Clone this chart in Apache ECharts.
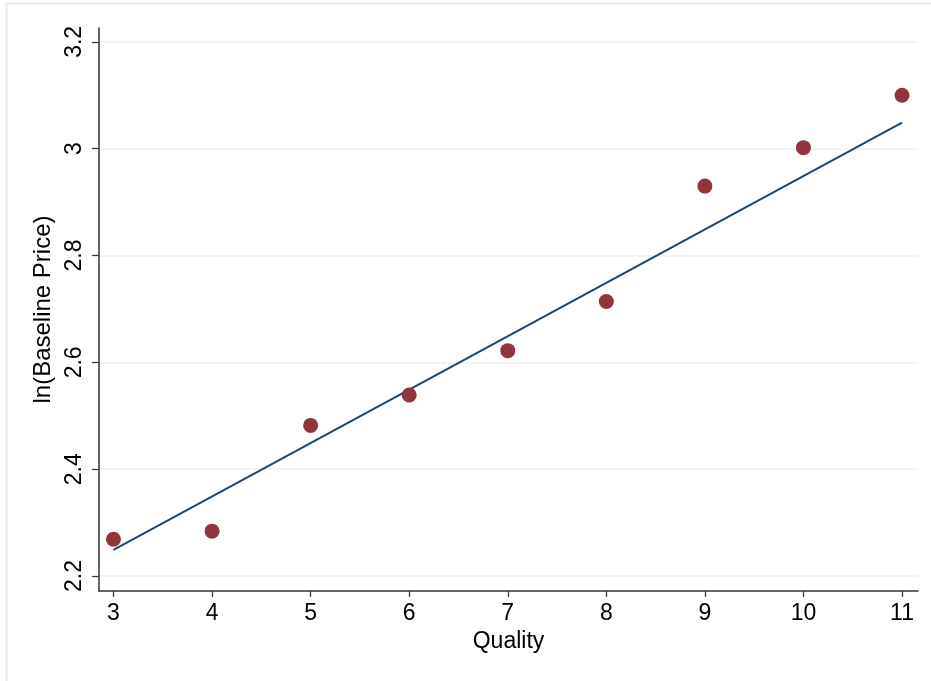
<!DOCTYPE html>
<html>
<head>
<meta charset="utf-8">
<script src="https://cdn.jsdelivr.net/npm/echarts@6/dist/echarts.min.js"></script>
<style>
html,body{margin:0;padding:0;background:#fff;}
#chart{width:931px;height:681px;}
</style>
</head>
<body>
<div id="chart"></div>
<script>
// Data
const quality = [3, 4, 5, 6, 7, 8, 9, 10, 11];
const lnPrice = [2.269, 2.284, 2.482, 2.539, 2.622, 2.714, 2.930, 3.002, 3.100];
const fitX = [3, 11];
const fitY = [2.249, 3.049];
const xTicks = [3, 4, 5, 6, 7, 8, 9, 10, 11];
const yTicks = [2.2, 2.4, 2.6, 2.8, 3.0, 3.2];
const xTitle = 'Quality';
const yTitle = 'ln(Baseline Price)';

const chart = echarts.init(document.getElementById('chart'));
const font = '"Liberation Sans", Arial, Helvetica, sans-serif';
chart.setOption({
  animation: false,
  backgroundColor: '#ffffff',
  graphic: [{
    type: 'rect',
    shape: { x: 6.5, y: 3.5, width: 1000, height: 1000 },
    style: { fill: 'none', stroke: '#e6ebf0', lineWidth: 2 },
    silent: true
  }],
  grid: { left: 99, right: 13, top: 28, bottom: 90, containLabel: false },
  xAxis: {
    type: 'value',
    min: 2.853, max: 11.162,
    name: xTitle,
    nameLocation: 'middle',
    nameGap: 39,
    nameTextStyle: { fontFamily: font, fontSize: 23, color: '#000' },
    axisLine: { show: true, onZero: false, lineStyle: { color: '#333', width: 1.5 } },
    axisTick: { show: true, length: 6, customValues: xTicks, lineStyle: { color: '#333', width: 1.2 } },
    axisLabel: {
      customValues: xTicks,
      fontFamily: font, fontSize: 23, color: '#000', margin: 11,
      formatter: v => String(v)
    },
    splitLine: { show: false }
  },
  yAxis: {
    type: 'value',
    min: 2.172, max: 3.226,
    name: yTitle,
    nameLocation: 'middle',
    nameGap: 44,
    nameRotate: 90,
    nameTextStyle: { fontFamily: font, fontSize: 24, color: '#000' },
    axisLine: { show: true, onZero: false, lineStyle: { color: '#333', width: 1.5 } },
    axisTick: { show: true, length: 7, customValues: yTicks, lineStyle: { color: '#333', width: 1.2 } },
    axisLabel: {
      customValues: yTicks,
      rotate: 90,
      fontFamily: font, fontSize: 23, color: '#000', margin: 13,
      formatter: v => (Math.round(v * 10) / 10).toString()
    },
    splitLine: { show: true, lineStyle: { color: '#eaf2f3', width: 1.5 } }
  },
  series: [
    {
      type: 'scatter',
      data: quality.map((q, i) => [q, lnPrice[i]]),
      symbol: 'circle',
      symbolSize: 15,
      itemStyle: { color: '#90353b', opacity: 1 },
      z: 3
    },
    {
      type: 'line',
      data: fitX.map((x, i) => [x, fitY[i]]),
      showSymbol: false,
      symbol: 'none',
      lineStyle: { color: '#1a476f', width: 2 },
      z: 2
    }
  ]
});
</script>
</body>
</html>
